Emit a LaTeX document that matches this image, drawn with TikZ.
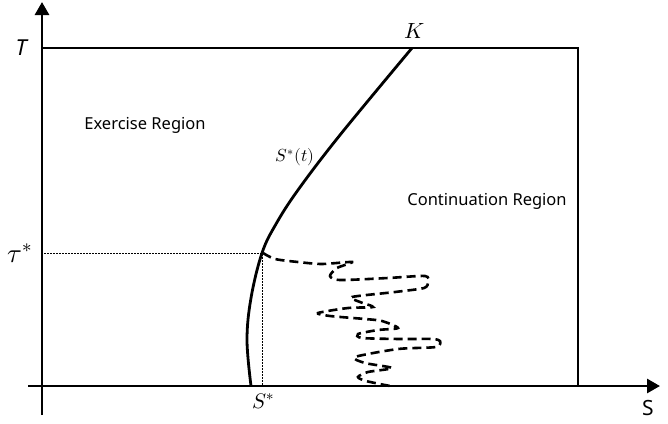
\documentclass[tikz,border=0pt]{standalone}
\usetikzlibrary{arrows.meta}
\usepackage{fontspec}
\setmainfont{Noto Sans}
\usepackage{unicode-math}
\setmathfont{Latin Modern Math}
\begin{document}
\begin{tikzpicture}[x=1pt,y=-1pt,
  axis/.style={line width=2.8pt,-{Triangle[length=13pt,width=14pt]}},
  frame/.style={line width=2.4pt},
  boundary/.style={line width=2.8pt},
  guide/.style={line width=0.8pt,dash pattern=on 1.5pt off 1.5pt},
  walk/.style={line width=2.6pt,dash pattern=on 9pt off 5pt},
  lab/.style={inner sep=1pt,font=\fontsize{16.5}{19}\selectfont},
  biglab/.style={inner sep=1pt,font=\fontsize{22}{24}\selectfont}]
\useasboundingbox (0,0) rectangle (668,423);
\coordinate (O) at (42,386);
\coordinate (yend) at (42,2);
\coordinate (ystart) at (42,415);
\coordinate (xstart) at (28,386);
\coordinate (xend) at (660,386);
\coordinate (TL) at (42,48);
\coordinate (TR) at (578,48);
\coordinate (BR) at (578,386);
\coordinate (P) at (262,253);
\coordinate (Pax) at (44,253);
\coordinate (Pbot) at (262,386);
\draw[axis] (ystart) -- (yend);
\draw[axis] (xstart) -- (xend);
\draw[frame] (TL) -- (TR) -- (BR);
\draw[guide] (Pax) -- (P) -- (Pbot);
\draw[boundary] plot[smooth,tension=0.6] coordinates {(251,386) (247,340) (251,298) (262,253) (276,224) (298,190) (340,135) (412,48)};
\draw[walk] plot[smooth,tension=0.45] coordinates {(263,253) (275,259) (298,262) (322,264) (352,262) (337,268) (330,276) (340,280) (388,278) (425,276) (428,282) (424,288) (395,292) (352,297) (360,302) (373,307) (348,308) (318,313) (330,316) (365,319) (382,321) (398,328) (378,330) (358,334) (362,338) (400,339) (432,339) (440,341) (436,347) (398,349) (355,357) (365,363) (392,368) (368,372) (358,377) (366,381) (390,386)};
\node[biglab] (Tlab) at (22,48) {\textit{T}};
\node[biglab,font=\fontsize{27}{30}\selectfont] (tau) at (20,253) {$\tau^{*}$};
\node[lab,font=\fontsize{21}{24}\selectfont] (Slab) at (648,408) {S};
\node[lab,font=\fontsize{21}{24}\selectfont] (Sstar) at (263,401) {$S^{*}$};
\node[biglab] (K) at (415,31) {$K$};
\node[lab,font=\fontsize{17.5}{20}\selectfont] (St) at (295,157) {$S^{*}(t)$};
\node[lab] (ex) at (145,125) {Exercise Region};
\node[lab] (cont) at (487,201) {Continuation Region};
\end{tikzpicture}
\end{document}
